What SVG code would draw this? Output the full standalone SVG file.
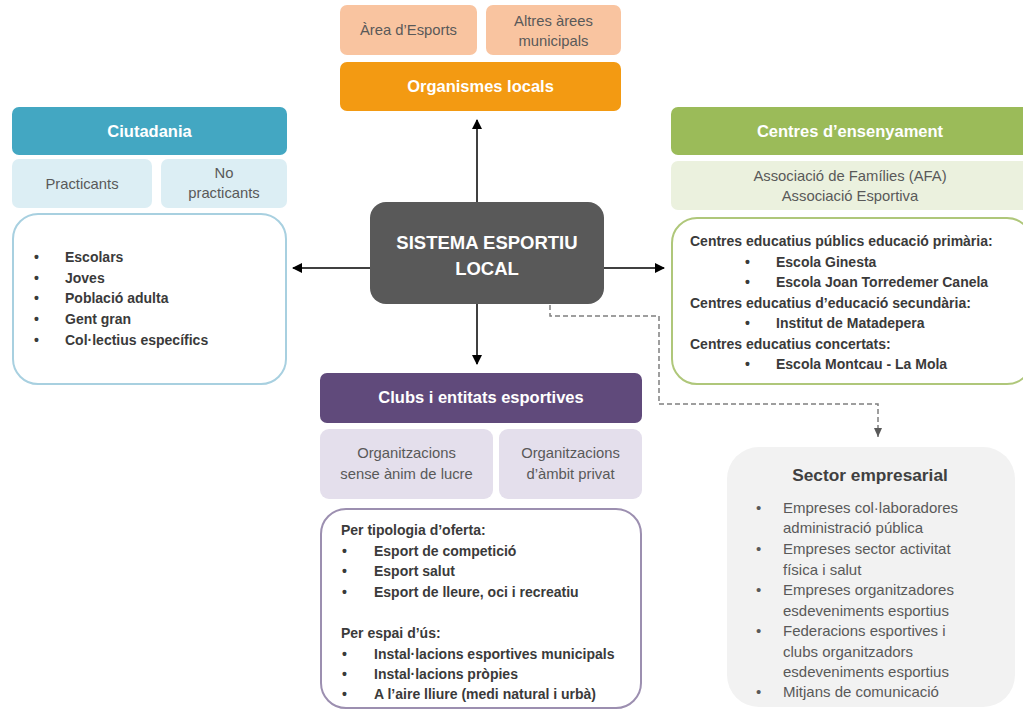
<svg xmlns="http://www.w3.org/2000/svg" width="1023" height="711" viewBox="0 0 1023 711">
<style>
text{font-family:"Liberation Sans",Arial,sans-serif}
.hd{fill:#fff;font-weight:bold;font-size:16.5px;text-anchor:middle}
.sub{fill:#595959;font-size:14.8px;text-anchor:middle}
.li{fill:#3a3a3a;font-weight:bold;font-size:14px}
.lg{fill:#595959;font-size:15px}
.con{stroke:#000;stroke-width:1.5;fill:none}
.dash{stroke:#7f7f7f;stroke-width:1.5;fill:none;stroke-dasharray:5 3}
</style>
<defs>
<marker id="ah" markerWidth="10" markerHeight="10" refX="9" refY="5" orient="auto" markerUnits="userSpaceOnUse"><path d="M0,0 L10,5 L0,10 z" fill="#000"/></marker>
<marker id="ahg" markerWidth="10" markerHeight="10" refX="9" refY="5" orient="auto" markerUnits="userSpaceOnUse"><path d="M0,1 L9,5 L0,9 z" fill="#595959"/></marker>
</defs>
<rect width="1023" height="711" fill="#fff"/>

<g id="connectors">
<line class="con" x1="477" y1="202" x2="477" y2="120" marker-end="url(#ah)"/>
<line class="con" x1="370" y1="268" x2="293" y2="268" marker-end="url(#ah)"/>
<line class="con" x1="604" y1="268" x2="664" y2="268" marker-end="url(#ah)"/>
<line class="con" x1="477" y1="304" x2="477" y2="364" marker-end="url(#ah)"/>
<polyline class="dash" points="550,305 550,316 659,316 659,404 878,404 878,437" marker-end="url(#ahg)"/>
</g>

<g id="organismes">
<rect x="340" y="5" width="137" height="50" rx="7" fill="#F9C4A0"/>
<text class="sub" x="408.5" y="35">Àrea d’Esports</text>
<rect x="486" y="5" width="135" height="50" rx="7" fill="#F9C4A0"/>
<text class="sub" x="553.5" y="26">Altres àrees</text>
<text class="sub" x="553.5" y="46">municipals</text>
<rect x="340" y="62" width="281" height="49" rx="7" fill="#F39A12"/>
<text class="hd" x="480.5" y="92">Organismes locals</text>
</g>

<g id="ciutadania">
<rect x="12" y="107" width="275" height="48" rx="7" fill="#43A7C2"/>
<text class="hd" x="149.5" y="137">Ciutadania</text>
<rect x="12" y="159" width="140" height="49" rx="7" fill="#DCEEF4"/>
<text class="sub" x="82" y="189">Practicants</text>
<rect x="161" y="159" width="126" height="49" rx="7" fill="#DCEEF4"/>
<text class="sub" x="224" y="178">No</text>
<text class="sub" x="224" y="198">practicants</text>
<rect x="13" y="214" width="273" height="170" rx="25" fill="#fff" stroke="#A8D0E0" stroke-width="2"/>
<g class="li">
<text x="34" y="262">•</text><text x="65" y="262">Escolars</text>
<text x="34" y="283">•</text><text x="65" y="283">Joves</text>
<text x="34" y="303">•</text><text x="65" y="303">Població adulta</text>
<text x="34" y="324">•</text><text x="65" y="324">Gent gran</text>
<text x="34" y="345">•</text><text x="65" y="345">Col·lectius específics</text>
</g>
</g>

<g id="sistema">
<rect x="370" y="202" width="234" height="102" rx="16" fill="#595959"/>
<text x="487" y="249" fill="#fff" font-size="18.5" font-weight="bold" text-anchor="middle">SISTEMA ESPORTIU</text>
<text x="487" y="275" fill="#fff" font-size="18.5" font-weight="bold" text-anchor="middle">LOCAL</text>
</g>

<g id="centres">
<rect x="671" y="107" width="360" height="48" rx="7" fill="#9BBB59"/>
<text class="hd" x="850" y="137">Centres d’ensenyament</text>
<rect x="671" y="161" width="360" height="49" rx="7" fill="#EBF1DE"/>
<text class="sub" x="850" y="181">Associació de Famílies (AFA)</text>
<text class="sub" x="850" y="201">Associació Esportiva</text>
<rect x="672" y="218" width="360" height="166" rx="25" fill="#fff" stroke="#AFC77A" stroke-width="2"/>
<g class="li">
<text x="690" y="246">Centres educatius públics educació primària:</text>
<text x="745" y="267">•</text><text x="776" y="267">Escola Ginesta</text>
<text x="745" y="287">•</text><text x="776" y="287">Escola Joan Torredemer Canela</text>
<text x="690" y="308">Centres educatius d’educació secundària:</text>
<text x="745" y="328">•</text><text x="776" y="328">Institut de Matadepera</text>
<text x="690" y="349">Centres educatius concertats:</text>
<text x="745" y="369">•</text><text x="776" y="369">Escola Montcau - La Mola</text>
</g>
</g>

<g id="clubs">
<rect x="320" y="373" width="322" height="50" rx="7" fill="#604A7B"/>
<text class="hd" x="481" y="403">Clubs i entitats esportives</text>
<rect x="320" y="429" width="173" height="70" rx="9" fill="#E4DFEC"/>
<text class="sub" x="406.5" y="458">Organitzacions</text>
<text class="sub" x="406.5" y="479">sense ànim de lucre</text>
<rect x="499" y="429" width="143" height="70" rx="9" fill="#E4DFEC"/>
<text class="sub" x="570.5" y="458">Organitzacions</text>
<text class="sub" x="570.5" y="479">d’àmbit privat</text>
<rect x="321" y="509" width="320" height="199" rx="25" fill="#fff" stroke="#9C8FB0" stroke-width="2"/>
<g class="li">
<text x="341" y="535">Per tipologia d’oferta:</text>
<text x="342" y="556">•</text><text x="374" y="556">Esport de competició</text>
<text x="342" y="576">•</text><text x="374" y="576">Esport salut</text>
<text x="342" y="597">•</text><text x="374" y="597">Esport de lleure, oci i recreatiu</text>
<text x="341" y="638">Per espai d’ús:</text>
<text x="342" y="659">•</text><text x="374" y="659">Instal·lacions esportives municipals</text>
<text x="342" y="679">•</text><text x="374" y="679">Instal·lacions pròpies</text>
<text x="342" y="699">•</text><text x="374" y="699">A l’aire lliure (medi natural i urbà)</text>
</g>
</g>

<g id="sector">
<rect x="727" y="447" width="288" height="260" rx="32" fill="#F2F2F2"/>
<text x="870" y="481" fill="#404040" font-size="17.3" font-weight="bold" text-anchor="middle">Sector empresarial</text>
<g class="lg">
<text x="756" y="513">•</text><text x="783" y="513">Empreses col·laboradores</text>
<text x="783" y="533">administració pública</text>
<text x="756" y="554">•</text><text x="783" y="554">Empreses sector activitat</text>
<text x="783" y="575">física i salut</text>
<text x="756" y="595">•</text><text x="783" y="595">Empreses organitzadores</text>
<text x="783" y="616">esdeveniments  esportius</text>
<text x="756" y="636">•</text><text x="783" y="636">Federacions esportives i</text>
<text x="783" y="657">clubs organitzadors</text>
<text x="783" y="677">esdeveniments  esportius</text>
<text x="756" y="697">•</text><text x="783" y="697">Mitjans de comunicació</text>
</g>
</g>
</svg>
